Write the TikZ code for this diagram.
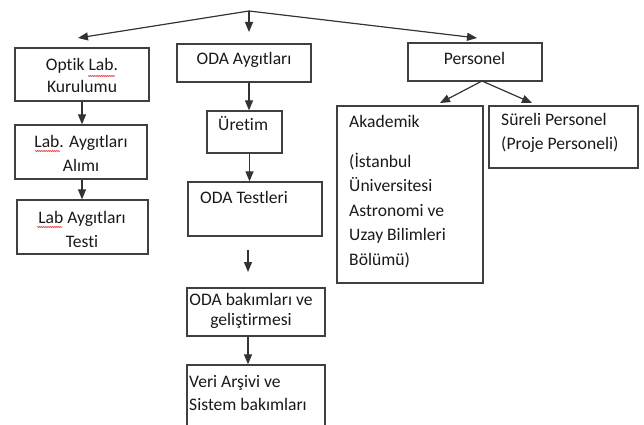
\documentclass[tikz,border=0pt]{standalone}
\usepackage{fontspec}
\setmainfont{Carlito}[Ligatures=NoCommon]
\usetikzlibrary{positioning}
\usetikzlibrary{arrows.meta}
\usetikzlibrary{decorations.pathmorphing}

\tikzset{
  box/.style={draw=black!75, line width=1.1pt, inner sep=0pt},
  txt/.style={inner sep=0pt, text=black!90, font=\fontsize{15}{20}\selectfont},
  arr/.style={-{Triangle[length=3mm,width=2.4mm]}, line width=1pt, draw=black!80, fill=black!80},
  squig/.style={red!85!black, line width=0.45pt, decorate, decoration={snake, amplitude=0.35pt, segment length=1.6pt}}
}

\begin{document}
\begin{tikzpicture}[x=0.03cm, y=-0.03cm]
\useasboundingbox (0,0) rectangle (644,425);
\clip (0,0) rectangle (644,425);

% boxes
\node[box, minimum width=4.02cm, minimum height=1.59cm] (optik) at (82,74.5) {};
\node[box, minimum width=3.96cm, minimum height=1.62cm] (labalim) at (81,152) {};
\node[box, minimum width=3.93cm, minimum height=1.62cm] (labtest) at (82.5,227) {};

\node[box, minimum width=4.02cm, minimum height=1.14cm] (odaayg) at (244,63) {};
\node[box, minimum width=2.25cm, minimum height=1.26cm] (uretim) at (244.5,132) {};
\node[box, minimum width=4.02cm, minimum height=1.62cm] (odatest) at (255,209) {};
\node[box, minimum width=4.14cm, minimum height=1.44cm] (odabak) at (256,312) {};
\node[box, minimum width=4.14cm, minimum height=2.40cm] (veri) at (256,405) {};

\node[box, minimum width=4.02cm, minimum height=1.14cm] (personel) at (475,62) {};
\node[box, minimum width=4.38cm, minimum height=5.31cm] (akademik) at (410,194.5) {};
\node[box, minimum width=4.47cm, minimum height=1.86cm] (sureli) at (563.5,137) {};

% texts (base = last line)
\node[txt, anchor=base, align=center, font=\fontsize{15}{19.6}\selectfont] (toptik) at (82,93) {Optik Lab.\\Kurulumu};
\node[txt, anchor=base, align=center, font=\fontsize{15}{21}\selectfont] (tlabalim) at (81,172) {Lab. Aygıtları\\Alımı};
\node[txt, anchor=base, align=center, font=\fontsize{15}{20.4}\selectfont] (tlabtest) at (82,247) {Lab Aygıtları\\Testi};

\node[txt, anchor=base] (todaayg) at (244,65) {ODA Aygıtları};
\node[txt, anchor=base west] (turetim) at (218,131) {Üretim};
\node[txt, anchor=base west] (todatest) at (200,203) {ODA Testleri};
\node[txt, anchor=base, align=center, font=\fontsize{15}{17}\selectfont] (todabak) at (251,325) {ODA bakımları ve\\geliştirmesi};
\node[txt, anchor=base west, align=left, font=\fontsize{15}{19.6}\selectfont] (tveri) at (189,410) {Veri Arşivi ve\\Sistem bakımları};

\node[txt, anchor=base] (tpersonel) at (474.5,65) {Personel};
\node[txt, anchor=base west, align=left, font=\fontsize{15}{20.8}\selectfont] (takademik) at (349,265) {Akademik\\[13pt](İstanbul\\Üniversitesi\\Astronomi ve\\Uzay Bilimleri\\Bölümü)};
\node[txt, anchor=base west, align=left, font=\fontsize{15}{21}\selectfont] (tsureli) at (501,150) {Süreli Personel\\(Proje Personeli)};

% spelling marks
\draw[squig] (88,76) -- (115,76);
\draw[squig] (35,151) -- (60,151);
\draw[squig] (37,227) -- (62,227);

% arrows
\coordinate (root) at (249,11);
\coordinate (tipoptik) at (78,38);
\coordinate (tipoda) at (249,32);
\coordinate (tippersonel) at (477,38);
\draw[arr] (root) -- (tipoptik);
\draw[arr] (root) -- (tipoda);
\draw[arr] (root) -- (tippersonel);

\draw[arr] (optik.south) -- (optik.south |- labalim.north);
\draw[arr] ([xshift=0.03cm]labalim.south) -- ([xshift=0.03cm]labalim.south |- labtest.north);

\draw[arr] ([xshift=0.15cm]odaayg.south) -- ([xshift=0.15cm]odaayg.south |- uretim.north);
\draw[arr] ([xshift=0.15cm]uretim.south) -- ([xshift=0.15cm]uretim.south |- odatest.north);
\coordinate (gapstart) at (248,250);
\coordinate (gapend) at (248,272);
\draw[arr] (gapstart) -- (gapend);
\draw[arr] ([xshift=-0.24cm]odabak.south) -- ([xshift=-0.24cm]odabak.south |- veri.north);

\coordinate (pfork) at (482,81);
\coordinate (tipakademik) at (440,103);
\coordinate (tipsureli) at (532,103);
\draw[arr] (pfork) -- (tipakademik);
\draw[arr] (pfork) -- (tipsureli);

\end{tikzpicture}
\end{document}
